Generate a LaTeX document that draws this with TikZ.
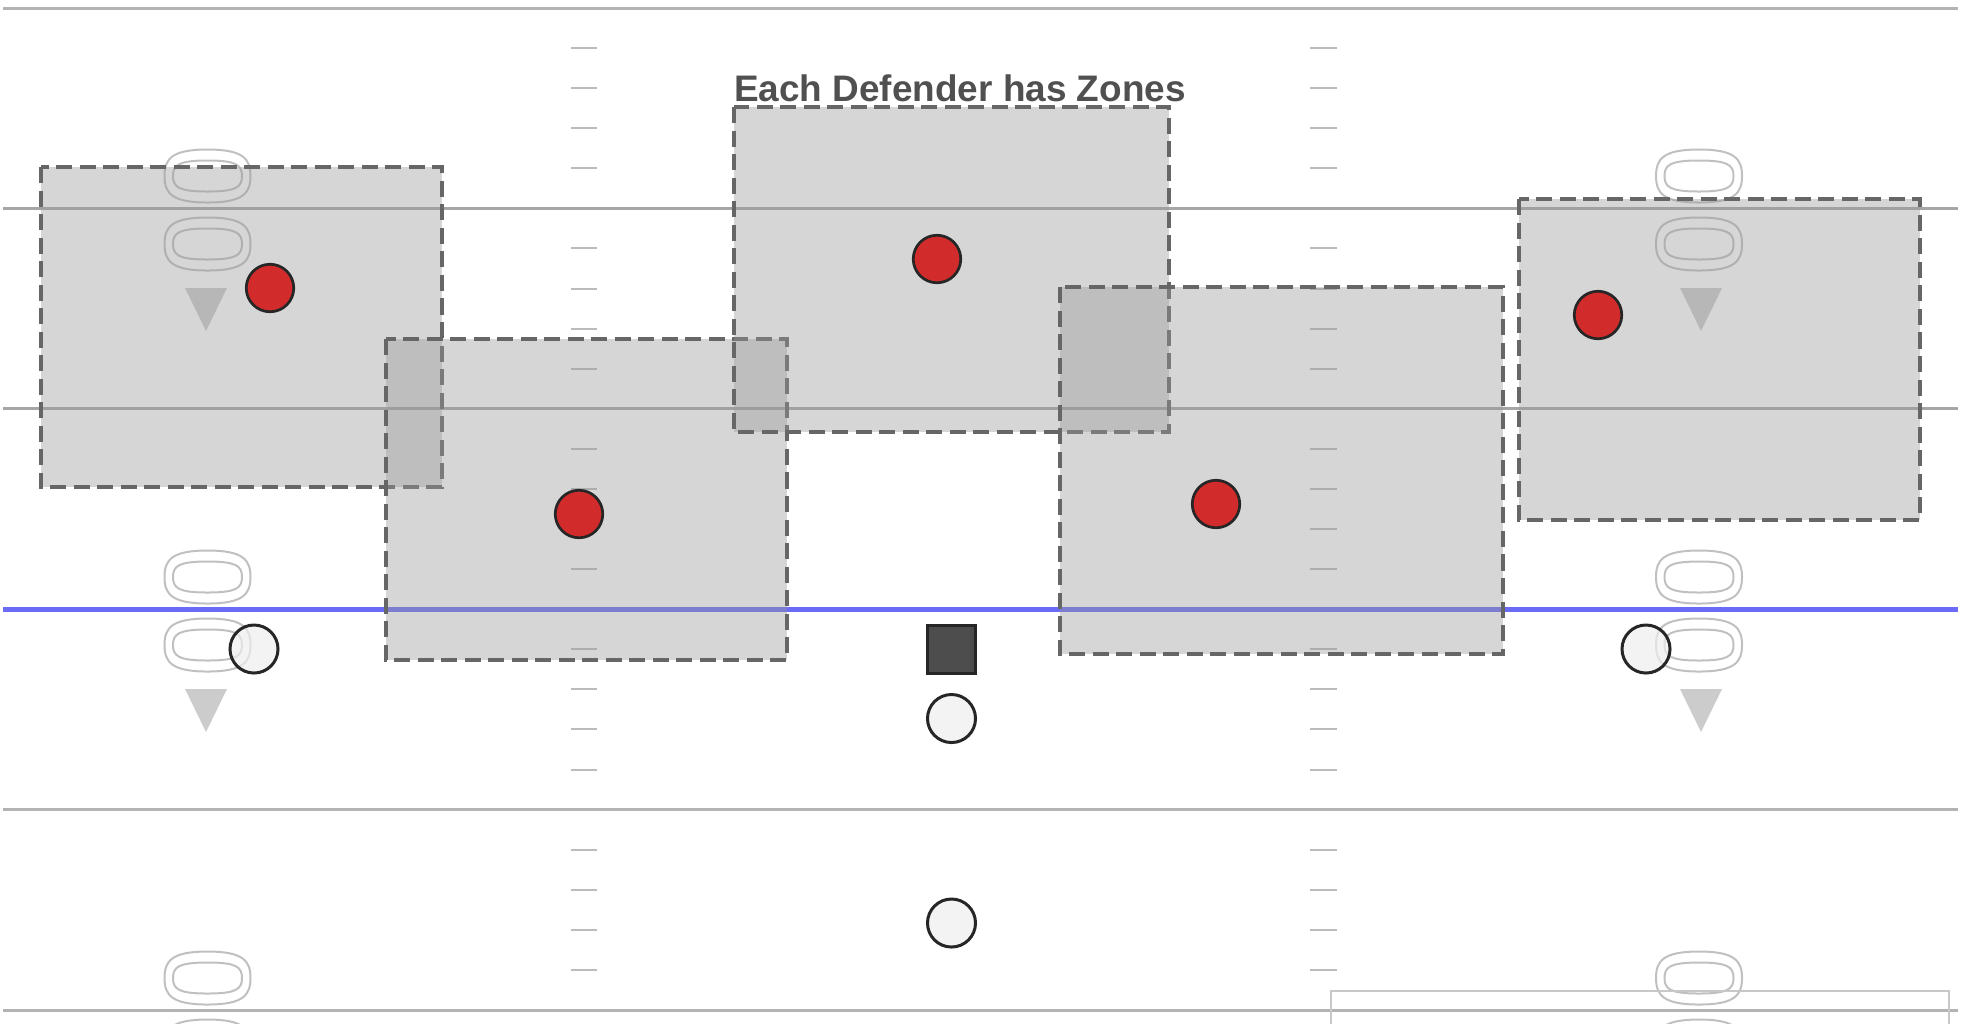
\documentclass[tikz,border=0pt]{standalone}
\usepackage{fontspec}
\setmainfont{Liberation Sans}
\usepackage{xcolor}
\usepackage{tikz}
\definecolor{yardgray}{HTML}{B3B3B3}
\definecolor{yardmid}{HTML}{A6A6A6}
\definecolor{losblue}{HTML}{6B6BF5}
\definecolor{hashgray}{HTML}{BBBBBB}
\definecolor{zonefill}{HTML}{999999}
\definecolor{zonedraw}{HTML}{666666}
\definecolor{dumgray}{HTML}{C0C0C0}
\definecolor{conegray}{HTML}{CCCCCC}
\definecolor{defred}{HTML}{D12B2B}
\definecolor{offdraw}{HTML}{262626}
\definecolor{offfill}{HTML}{EEEEEE}
\definecolor{ctrfill}{HTML}{4D4D4D}
\definecolor{titlegray}{HTML}{505050}
\definecolor{lgdgray}{HTML}{C8C8C8}

\begin{document}
\begin{tikzpicture}[x=0.01cm, y=-0.01cm,
  yard/.style={draw=yardgray, line width=0.03cm},
  los/.style={draw=losblue, line width=0.05cm},
  hash/.style={draw=hashgray, line width=0.02cm},
  zone/.style={draw=zonedraw, fill=zonefill, fill opacity=0.4, line width=0.034cm,
               dash pattern=on 0.16cm off 0.075cm},
  dum/.style={draw=dumgray, line width=0.02cm},
  dummy/.pic={
    \draw[dum] (0,-26.5) .. controls (36,-26.5) and (43,-17) .. (43,0)
               .. controls (43,17) and (36,26.5) .. (0,26.5)
               .. controls (-36,26.5) and (-43,17) .. (-43,0)
               .. controls (-43,-17) and (-36,-26.5) .. (0,-26.5) -- cycle;
    \draw[dum] (0,-15.5) .. controls (29,-15.5) and (34.5,-11) .. (34.5,0)
               .. controls (34.5,11) and (29,15.5) .. (0,15.5)
               .. controls (-29,15.5) and (-34.5,11) .. (-34.5,0)
               .. controls (-34.5,-11) and (-29,-15.5) .. (0,-15.5) -- cycle;},
  cone/.pic={\fill[conegray] (-21,0) -- (21,0) -- (0,43) -- cycle;},
  defd/.style={circle, draw=offdraw, fill=defred, line width=0.027cm,
               minimum size=0.475cm, inner sep=0pt},
  offd/.style={circle, draw=offdraw, fill=offfill, fill opacity=0.7, line width=0.03cm,
               minimum size=0.48cm, inner sep=0pt},
  ctrd/.style={rectangle, draw=offdraw, fill=ctrfill, line width=0.03cm,
               minimum size=0.48cm, inner sep=0pt},
  ttl/.style={font=\fontsize{10.5pt}{12pt}\selectfont\bfseries, text=titlegray,
              inner sep=0pt, anchor=base},
  lgd/.style={draw=lgdgray, line width=0.02cm}
]
\useasboundingbox (0,0) rectangle (1970,1023);
\clip (0,0) rectangle (1970,1023);
%% Yard lines and line of scrimmage
\foreach \y in {8,809.6,1010} \draw[yard] (3,\y) -- (1958,\y);
\foreach \y in {208.4,408.8} \draw[yard, draw=yardmid] (3,\y) -- (1958,\y);
\draw[los] (3,609.2) -- (1958,609.2);
%% Hash marks
\foreach \i in {0,...,4}
  \foreach \k in {1,...,4}
    \draw[hash] (571,{8+200.4*\i+40.08*\k}) -- (597,{8+200.4*\i+40.08*\k})
                (1310,{8+200.4*\i+40.08*\k}) -- (1337,{8+200.4*\i+40.08*\k});
%% Receiver markers
\foreach \dx/\cx in {207.5/206,1699/1701}
  \foreach \y in {176,577,978} {
    \pic at (\dx,\y) {dummy};
    \pic at (\dx,\y+68) {dummy};
    \pic at (\cx,\y+112) {cone};
  }
%% Zones
\draw[zone] (41,167) rectangle (442,487);
\draw[zone] (386,339) rectangle (787,660);
\draw[zone] (734,107) rectangle (1169,432);
\draw[zone] (1060,287) rectangle (1503,654);
\draw[zone] (1519,199) rectangle (1920,520);
%% Defenders
\node[defd] (d1) at (270,288) {};
\node[defd] (d2) at (579,514) {};
\node[defd] (d3) at (937,259) {};
\node[defd] (d4) at (1216,504) {};
\node[defd] (d5) at (1598,315) {};
%% Offense
\node[offd] (wrl) at (254,649) {};
\node[ctrd] (ctr) at (951.5,649) {};
\node[offd] (qb) at (951.5,718.5) {};
\node[offd] (rb) at (951.5,923) {};
\node[offd] (wrr) at (1646,649) {};
%% Title and legend frame
\node[ttl] (title) at (960,101.7) {Each Defender has Zones};
\draw[lgd] (1331,991) rectangle (1949,1040);
\end{tikzpicture}
\end{document}
